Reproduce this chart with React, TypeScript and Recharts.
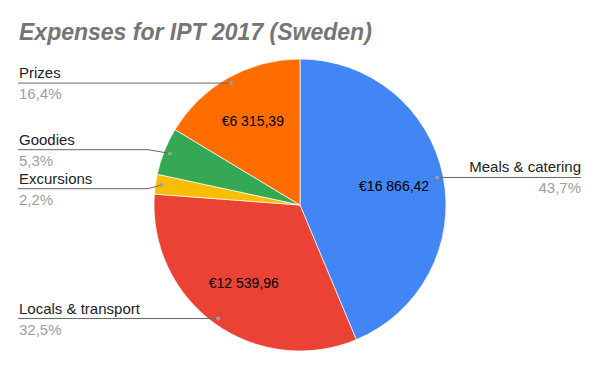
import { PieChart, Pie, Cell } from 'recharts';

const categories = ['Meals & catering', 'Locals & transport', 'Excursions', 'Goodies', 'Prizes'];
const amounts = [16866.42, 12539.96, 843.5, 2031.0, 6315.39];
const colors = ['#4285f4', '#ea4335', '#fbbc04', '#34a853', '#ff6d01'];

const W = 600;
const H = 371;
const CX = 300;
const CY = 205;
const R = 146;
const RAD = Math.PI / 180;
const FONT = '"Liberation Sans", Arial, sans-serif';

const total = amounts.reduce((a, b) => a + b, 0);
const data = categories.map((name, i) => ({ name, value: amounts[i] }));

// same angles Recharts uses with startAngle=90, endAngle=-270
const midAngles = (() => {
  let cum = 0;
  return amounts.map((v) => {
    const m = 90 - (360 * (cum + v / 2)) / total;
    cum += v;
    return m;
  });
})();

// y of each outside label line, spread apart so labels don't collide
const labelY = (() => {
  const ys = midAngles.map((m) => CY + (R - 6) * Math.sin(-m * RAD));
  const side = midAngles.map((m) => (Math.cos(-m * RAD) >= 0 ? 1 : -1));
  const gap = 39;
  [1, -1].forEach((s) => {
    const idx = ys.map((_, i) => i).filter((i) => side[i] === s).sort((a, b) => ys[a] - ys[b]);
    for (let k = 1; k < idx.length; k++) {
      const a = idx[k - 1];
      const b = idx[k];
      const d = ys[b] - ys[a];
      if (d < gap) {
        ys[a] -= (gap - d) / 2;
        ys[b] += (gap - d) / 2;
      }
    }
  });
  return ys;
})();

const fmtMoney = (v: number) => {
  const [int, dec] = v.toFixed(2).split('.');
  return '€' + int.replace(/\B(?=(\d{3})+(?!\d))/g, ' ') + ',' + dec;
};
const fmtPct = (p: number) => (p * 100).toFixed(1).replace('.', ',') + '%';

const renderLabel = (props: any) => {
  const { cx, cy, midAngle, outerRadius, index, value } = props;
  const cos = Math.cos(-midAngle * RAD);
  const sin = Math.sin(-midAngle * RAD);
  const dx = cx + (outerRadius - 6) * cos;
  const dy = cy + (outerRadius - 6) * sin;
  const right = cos >= 0;
  const ly = labelY[index];
  const bendX = right ? Math.max(dx + 10, cx + outerRadius + 6) : Math.min(dx - 10, cx - outerRadius - 6);
  const endX = right ? 581 : 18;
  const share = value / total;
  const ix = cx + 96 * cos;
  const iy = cy + 96 * sin;
  return (
    <g>
      {share > 0.1 && (
        <text x={ix} y={iy} textAnchor="middle" dominantBaseline="central" fill="#000" fontSize={14} fontFamily={FONT}>
          {fmtMoney(value)}
        </text>
      )}
      <path d={`M${endX},${ly}H${bendX}L${dx},${dy}`} stroke="#666" strokeWidth={1} fill="none" />
      <circle cx={dx} cy={dy} r={2} fill="#9e9e9e" />
      <text x={right ? endX : endX + 1} y={ly - 5} textAnchor={right ? 'end' : 'start'} fill="#222" fontSize={15} fontFamily={FONT}>
        {categories[index]}
      </text>
      <text x={right ? endX : endX + 1} y={ly + 16} textAnchor={right ? 'end' : 'start'} fill="#9e9e9e" fontSize={15} fontFamily={FONT}>
        {fmtPct(share)}
      </text>
    </g>
  );
};

export default function App() {
  return (
    <div style={{ position: 'absolute', left: 0, top: 0, width: W, height: H, background: '#fff' }}>
      <div
        style={{
          position: 'absolute',
          left: 19,
          top: 19,
          fontFamily: FONT,
          fontWeight: 'bold',
          fontStyle: 'italic',
          fontSize: 23,
          color: '#757575',
          lineHeight: '26px',
          whiteSpace: 'nowrap',
        }}
      >
        Expenses for IPT 2017 (Sweden)
      </div>
      <PieChart width={W} height={H} margin={{ top: 0, right: 0, bottom: 0, left: 0 }}>
        <Pie
          data={data}
          dataKey="value"
          nameKey="name"
          cx={CX}
          cy={CY}
          outerRadius={R}
          startAngle={90}
          endAngle={-270}
          stroke="#ffffff"
          strokeWidth={0.7}
          label={renderLabel}
          labelLine={false}
          isAnimationActive={false}
        >
          {data.map((d, i) => (
            <Cell key={d.name} fill={colors[i]} />
          ))}
        </Pie>
      </PieChart>
    </div>
  );
}
